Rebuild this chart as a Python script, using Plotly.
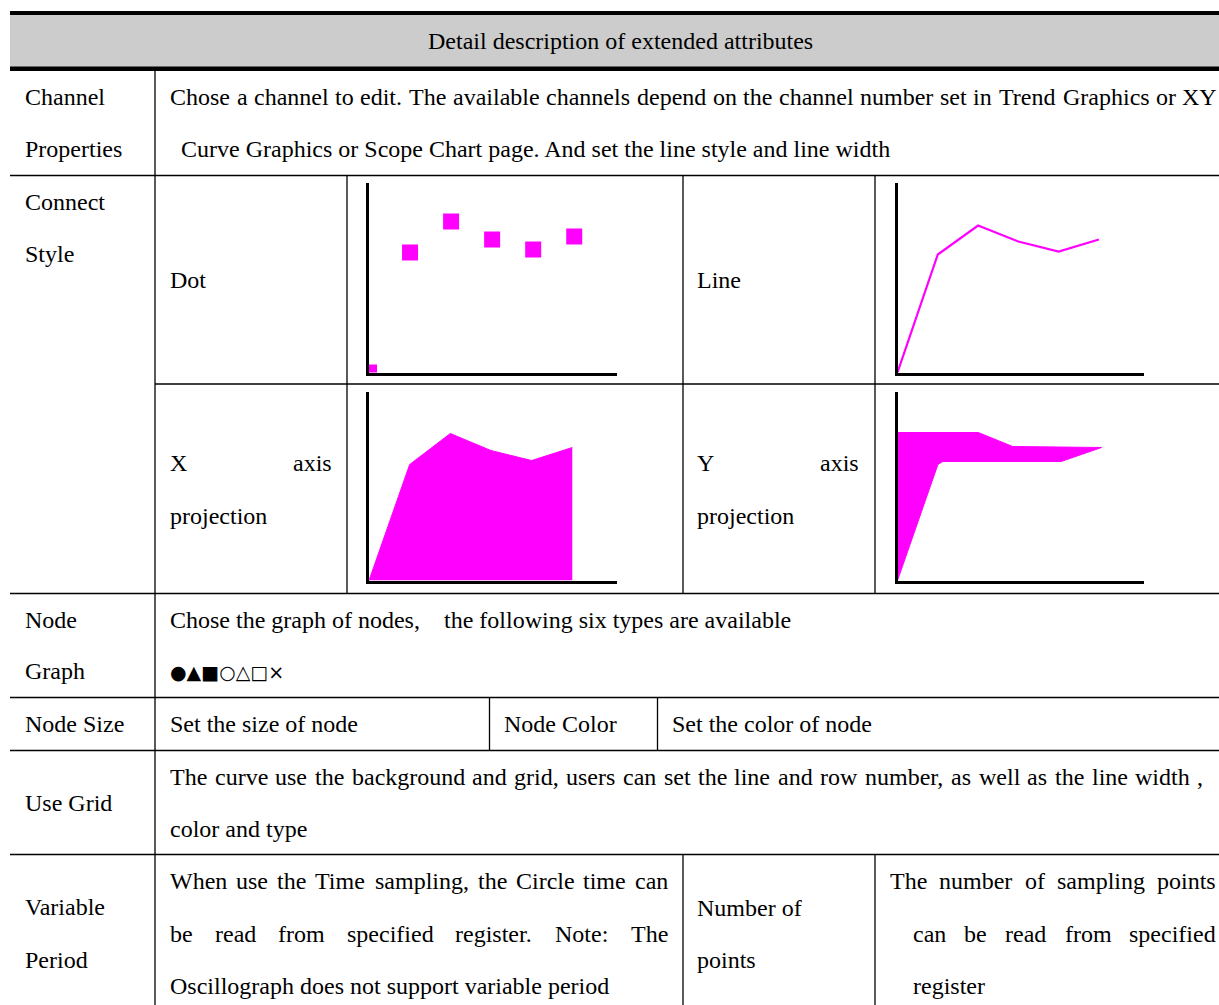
import plotly.graph_objects as go

# ---------------- data ----------------
dot_x = [0, 1, 2, 3, 4, 5]
dot_y = [0, 120, 151, 133, 123, 136]
line_x = [0, 1, 2, 3, 4, 5]
line_y = [0, 118, 147, 131, 121, 133]
xproj_x = [0, 1, 2, 3, 4, 5]
xproj_y = [0, 116, 147, 130, 120, 133]
yproj_x = [0, 0, 2.0, 2.85, 5.05, 4.05, 1.12, 1.0, 0]
yproj_y = [0, 148, 148, 134, 133, 119, 119, 116, 0]

header_text = "Detail description of extended attributes"
node_symbols = "●▲■○△□×"

W, H = 1219, 1005
FONT = "Liberation Serif, Times New Roman, serif"
FS = 24
MAGENTA = "#FF00FF"

# Times / Liberation Serif advance widths (1/1000 em)
CW = {' ': 250, '!': 333, ',': 250, '.': 250, ':': 278, ';': 278, '-': 333, '(': 333, ')': 333,
      'A': 722, 'B': 667, 'C': 667, 'D': 722, 'E': 611, 'F': 556, 'G': 722, 'H': 722, 'I': 333,
      'J': 389, 'K': 722, 'L': 611, 'M': 889, 'N': 722, 'O': 722, 'P': 556, 'Q': 722, 'R': 667,
      'S': 556, 'T': 611, 'U': 722, 'V': 722, 'W': 944, 'X': 722, 'Y': 722, 'Z': 611,
      'a': 444, 'b': 500, 'c': 444, 'd': 500, 'e': 444, 'f': 333, 'g': 500, 'h': 500, 'i': 278,
      'j': 278, 'k': 500, 'l': 278, 'm': 778, 'n': 500, 'o': 500, 'p': 500, 'q': 500, 'r': 333,
      's': 389, 't': 278, 'u': 500, 'v': 500, 'w': 722, 'x': 500, 'y': 500, 'z': 444}


def text_w(s):
    return sum(CW.get(c, 500) for c in s) * FS / 1000.0


annotations = []


def txt(s, x, y, anchor="left", size=FS, family=FONT):
    annotations.append(dict(text=s, x=x, y=y, xref="x", yref="y", showarrow=False,
                            xanchor=anchor, yanchor="middle", borderpad=0, borderwidth=0,
                            font=dict(family=family, size=size, color="black")))


def justified(s, x0, x1, y):
    words = s.split(" ")
    ws = [text_w(w) for w in words]
    gap = (x1 - x0 - sum(ws)) / (len(words) - 1)
    x = x0
    for w, wd in zip(words, ws):
        txt(w, x, y)
        x += wd + gap


shapes = []


def hline(y, x0, x1, w=1.3):
    shapes.append(dict(type="line", xref="x", yref="y", x0=x0, x1=x1, y0=y, y1=y,
                       line=dict(color="black", width=w)))


def vline(x, y0, y1, w=1.3):
    shapes.append(dict(type="line", xref="x", yref="y", x0=x, x1=x, y0=y0, y1=y1,
                       line=dict(color="black", width=w)))


# header band
shapes.append(dict(type="rect", xref="x", yref="y", x0=10, x1=W, y0=15, y1=67,
                   fillcolor="#CCCCCC", line=dict(width=0), layer="below"))
hline(13, 10, W, 4.2)
hline(68.7, 10, W, 4.6)

# horizontal rules
hline(175.5, 10, W)
hline(384, 155, W)
hline(593.5, 10, W)
hline(697.5, 10, W)
hline(750.5, 10, W)
hline(854.5, 10, W)

# vertical rules
vline(155, 71, H)
for xv in (347, 683, 875):
    vline(xv, 175.5, 593.5)
for xv in (683, 875):
    vline(xv, 854.5, H)
vline(489.5, 697.5, 750.5)
vline(657.5, 697.5, 750.5)

# ---------------- text ----------------
txt(header_text, 620, 41, anchor="center")

txt("Channel", 25, 97)
txt("Properties", 25, 149)
justified("Chose a channel to edit. The available channels depend on the channel number set in Trend Graphics or XY", 170, 1217, 97)
txt("Curve Graphics or Scope Chart page. And set the line style and line width", 181, 149)

txt("Connect", 25, 202)
txt("Style", 25, 254)
txt("Dot", 170, 280)
txt("Line", 697, 280)
justified("X axis", 170, 332, 463)
txt("projection", 170, 516)
justified("Y axis", 697, 859, 463)
txt("projection", 697, 516)

txt("Node", 25, 620)
txt("Graph", 25, 671)
txt("Chose the graph of nodes,", 170, 620)
txt("the following six types are available", 444, 620)
txt(node_symbols, 170, 672, size=19, family="DejaVu Sans")

txt("Node Size", 25, 724)
txt("Set the size of node", 170, 724)
txt("Node Color", 504, 724)
txt("Set the color of node", 672, 724)

txt("Use Grid", 25, 803)
justified("The curve use the background and grid, users can set the line and row number, as well as the line width ,", 170, 1203, 777)
txt("color and type", 170, 829)

txt("Variable", 25, 907)
txt("Period", 25, 960)
justified("When use the Time sampling, the Circle time can", 170, 668, 881)
justified("be read from specified register. Note: The", 170, 668, 934)
txt("Oscillograph does not support variable period", 170, 986)
txt("Number of", 697, 908)
txt("points", 697, 960)
justified("The number of sampling points", 890, 1216, 881)
justified("can be read from specified", 913, 1216, 934)
txt("register", 913, 986)

# ---------------- figure ----------------
fig = go.Figure()

# invisible main axis spanning the page (page pixel coordinates)
fig.add_trace(go.Scatter(x=[0, W], y=[0, H], mode="markers", marker=dict(opacity=0),
                         hoverinfo="skip", showlegend=False, xaxis="x", yaxis="y"))

fig.add_trace(go.Scatter(x=dot_x, y=dot_y, mode="markers", showlegend=False,
                         marker=dict(symbol="square", size=16, color=MAGENTA, line=dict(width=0)),
                         xaxis="x2", yaxis="y2"))
fig.add_trace(go.Scatter(x=line_x, y=line_y, mode="lines", showlegend=False,
                         line=dict(color=MAGENTA, width=2.2), xaxis="x3", yaxis="y3"))
fig.add_trace(go.Scatter(x=xproj_x, y=xproj_y, mode="lines", fill="tozeroy", showlegend=False,
                         fillcolor=MAGENTA, line=dict(color=MAGENTA, width=1),
                         xaxis="x4", yaxis="y4"))
fig.add_trace(go.Scatter(x=yproj_x, y=yproj_y, mode="lines", fill="toself", showlegend=False,
                         fillcolor=MAGENTA, line=dict(color=MAGENTA, width=1),
                         xaxis="x5", yaxis="y5"))

layout = dict(
    width=W, height=H, margin=dict(l=0, r=0, t=0, b=0),
    paper_bgcolor="white", plot_bgcolor="rgba(0,0,0,0)",
    xaxis=dict(domain=[0, 1], range=[0, W], visible=False, fixedrange=True),
    yaxis=dict(domain=[0, 1], range=[H, 0], visible=False, fixedrange=True),
    shapes=shapes, annotations=annotations, showlegend=False,
)


def px_x(p):
    return p / W


def px_y(p):
    return 1 - p / H


def mini(i, left, right, top, bottom, xmax, ymax):
    ax = dict(showline=True, linecolor="black", linewidth=3, showgrid=False, zeroline=False,
              showticklabels=False, ticks="", fixedrange=True)
    layout["xaxis%d" % i] = dict(ax, domain=[px_x(left + 1.5), px_x(right)], range=[0, xmax],
                                 anchor="y%d" % i)
    layout["yaxis%d" % i] = dict(ax, domain=[px_y(bottom - 1.5), px_y(top)],
                                 range=[0, ymax], anchor="x%d" % i)


mini(2, 367.5, 616.5, 183, 374, 6.03, 189.5)
mini(3, 896, 1144, 183, 374, 6.12, 189.5)
mini(4, 367.5, 617, 392, 582, 6.1, 188.5)
mini(5, 896, 1144, 392, 582, 6.1, 188.5)

fig.update_layout(**layout)

page_js = ("document.body.style.margin='0';"
           "document.body.style.overflow='hidden';"
           "document.documentElement.style.overflow='hidden';")
fig.write_html("out.html", post_script=page_js, config={"displayModeBar": False})
